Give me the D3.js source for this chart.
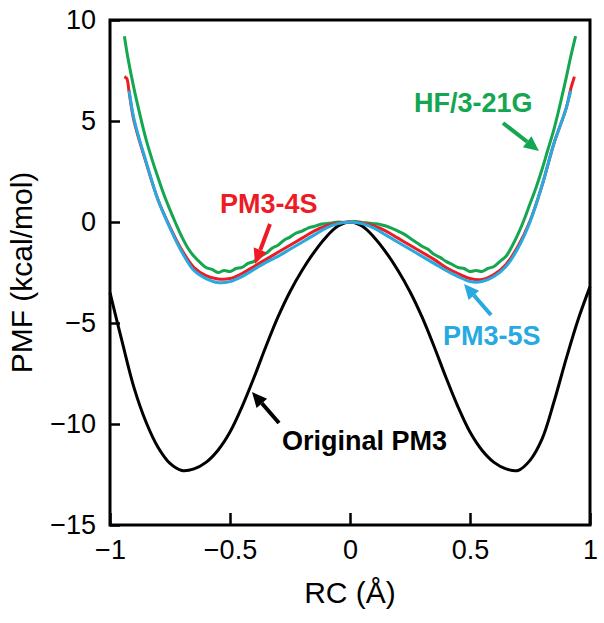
<!DOCTYPE html>
<html>
<head>
<meta charset="utf-8">
<script src="https://cdn.jsdelivr.net/npm/d3@7"></script>
<style>
  body { margin: 0; background: #fff; }
  svg { display: block; font-family: "Liberation Sans", Arial, sans-serif; }
</style>
</head>
<body>
<div id="chart"></div>
<script>
// reaction coordinate grids
const rcStep05 = [-1, -0.95, -0.9, -0.85, -0.8, -0.75, -0.7, -0.65, -0.6, -0.55, -0.5, -0.45, -0.4, -0.35, -0.3, -0.25, -0.2, -0.15, -0.1, -0.05,
  0, 0.05, 0.1, 0.15, 0.2, 0.25, 0.3, 0.35, 0.4, 0.45, 0.5, 0.55, 0.6, 0.65, 0.7, 0.75, 0.8, 0.85, 0.9, 0.95, 1];

// Original PM3
const pmfPM3 = [-3.5, -5.9, -8.2, -9.9, -11.15, -11.95, -12.3, -12.22, -11.9, -11.3, -10.4, -9.15, -7.7, -6.15, -4.7, -3.45, -2.4, -1.5, -0.75, -0.2,
  0, -0.2, -0.75, -1.5, -2.4, -3.45, -4.7, -6.15, -7.7, -9.15, -10.4, -11.3, -11.9, -12.22, -12.3, -11.8, -10.75, -8.9, -6.8, -4.85, -3.2];

// PM3-5S
const rc5S = [-0.92, -0.9, -0.85, -0.8, -0.75, -0.7, -0.65, -0.6, -0.55, -0.5, -0.45, -0.4, -0.35, -0.3, -0.25, -0.2, -0.15, -0.1, -0.05,
  0, 0.05, 0.1, 0.15, 0.2, 0.25, 0.3, 0.35, 0.4, 0.45, 0.5, 0.55, 0.6, 0.65, 0.7, 0.75, 0.8, 0.85, 0.9, 0.92];
const pmf5S = [6.5, 5.1, 3.0, 1.1, -0.3, -1.5, -2.4, -2.8, -3.0, -2.95, -2.7, -2.35, -2.0, -1.7, -1.35, -1.0, -0.65, -0.3, -0.08,
  0, -0.08, -0.3, -0.65, -1.0, -1.35, -1.7, -2.05, -2.4, -2.7, -2.95, -2.95, -2.7, -2.2, -1.3, 0.0, 1.8, 3.9, 5.6, 6.5];

// PM3-4S
const rc4S = [-0.94, -0.93, -0.92, -0.9, -0.85, -0.8, -0.75, -0.7, -0.65, -0.6, -0.55, -0.5, -0.45, -0.4, -0.35, -0.3, -0.25, -0.2, -0.15, -0.1, -0.05,
  0, 0.05, 0.1, 0.15, 0.2, 0.25, 0.3, 0.35, 0.4, 0.45, 0.5, 0.55, 0.6, 0.65, 0.7, 0.75, 0.8, 0.85, 0.9, 0.92, 0.93, 0.935];
const pmf4S = [7.2, 7.1, 6.4, 5.0, 2.95, 1.1, -0.25, -1.4, -2.25, -2.65, -2.82, -2.8, -2.55, -2.2, -1.85, -1.5, -1.15, -0.8, -0.45, -0.2, -0.05,
  0, -0.05, -0.2, -0.45, -0.8, -1.15, -1.5, -1.85, -2.25, -2.55, -2.8, -2.85, -2.6, -2.1, -1.2, 0.05, 1.8, 3.9, 5.6, 6.6, 7.0, 7.2];

// HF/3-21G
const rcHF = [-0.94, -0.925, -0.9, -0.875, -0.85, -0.825, -0.8, -0.775, -0.75, -0.725, -0.7, -0.675, -0.65, -0.625, -0.6, -0.575, -0.55, -0.525,
  -0.5, -0.475, -0.45, -0.425, -0.4, -0.375, -0.35, -0.325, -0.3, -0.275, -0.25, -0.225, -0.2, -0.175, -0.15, -0.125, -0.1, -0.075, -0.05, -0.025,
  0, 0.025, 0.05, 0.075, 0.1, 0.125, 0.15, 0.175, 0.2, 0.225, 0.25, 0.275, 0.3, 0.325, 0.35, 0.375, 0.4, 0.425, 0.45, 0.475,
  0.5, 0.525, 0.55, 0.575, 0.6, 0.625, 0.65, 0.675, 0.7, 0.725, 0.75, 0.775, 0.8, 0.825, 0.85, 0.875, 0.9, 0.92, 0.94];
const pmfHF = [9.2, 8.1, 6.6, 5.3, 4.1, 3.1, 2.2, 1.35, 0.6, -0.1, -0.75, -1.3, -1.7, -2.0, -2.25, -2.35, -2.5, -2.4,
  -2.45, -2.3, -2.25, -2.05, -1.95, -1.7, -1.55, -1.3, -1.15, -0.9, -0.75, -0.55, -0.45, -0.3, -0.22, -0.12, -0.08, -0.05, 0.0, -0.03,
  0.0, 0.02, -0.02, -0.05, -0.08, -0.12, -0.2, -0.32, -0.45, -0.6, -0.8, -1.0, -1.2, -1.35, -1.6, -1.75, -1.95, -2.1, -2.25, -2.3,
  -2.45, -2.4, -2.45, -2.3, -2.2, -1.95, -1.7, -1.2, -0.6, 0.1, 0.9, 1.7, 2.6, 3.6, 4.6, 5.8, 7.1, 8.2, 9.2];

const xTicks = [-1, -0.5, 0, 0.5, 1];
const yTicks = [-15, -10, -5, 0, 5, 10];

const width = 604, height = 623;
const margin = { top: 20, left: 110, bottom: 98, right: 14 };
const iwidth = width - margin.left - margin.right;
const iheight = height - margin.top - margin.bottom;

const green = "#14a650", red = "#ed1c24", blue = "#27aae1";

const svg = d3.select("#chart").append("svg")
  .attr("width", width)
  .attr("height", height);

const g = svg.append("g").attr("transform", `translate(${margin.left},${margin.top})`);

const x = d3.scaleLinear().domain([-1, 1]).range([0, iwidth]);
const y = d3.scaleLinear().domain([-15, 10]).range([iheight, 0]);

const fmt = d => (d < 0 ? "\u2212" : "") + Math.abs(d);

const xAxis = g.append("g")
  .attr("transform", `translate(0,${iheight})`)
  .call(d3.axisBottom(x).tickValues(xTicks).tickSizeInner(-12).tickSizeOuter(0).tickPadding(15).tickFormat(fmt));
const yAxis = g.append("g")
  .call(d3.axisLeft(y).tickValues(yTicks).tickSizeInner(-10).tickSizeOuter(0).tickPadding(14).tickFormat(fmt));

[xAxis, yAxis].forEach(a => {
  a.select(".domain").remove();
  a.selectAll(".tick line").attr("stroke", "#000").attr("stroke-width", 2.5);
  a.selectAll(".tick text").attr("fill", "#000").style("font-size", "27px");
});

const line = (xs, ys) => d3.line()
  .x((d, i) => x(xs[i]))
  .y(d => y(d))
  .curve(d3.curveCatmullRom.alpha(0.5))(ys);

g.append("path").attr("d", line(rcStep05, pmfPM3)).attr("fill", "none").attr("stroke", "#000").attr("stroke-width", 3);
g.append("path").attr("d", line(rcHF, pmfHF)).attr("fill", "none").attr("stroke", green).attr("stroke-width", 3);
g.append("path").attr("d", line(rc4S, pmf4S)).attr("fill", "none").attr("stroke", red).attr("stroke-width", 3);
g.append("path").attr("d", line(rc5S, pmf5S)).attr("fill", "none").attr("stroke", blue).attr("stroke-width", 3);

// frame
g.append("rect")
  .attr("width", iwidth).attr("height", iheight)
  .attr("fill", "none").attr("stroke", "#000").attr("stroke-width", 3);

// annotations
function arrow(x1, y1, x2, y2, color) {
  const ang = Math.atan2(y2 - y1, x2 - x1);
  const hl = 15, hw = 7;
  const bx = x2 - hl * Math.cos(ang), by = y2 - hl * Math.sin(ang);
  svg.append("line")
    .attr("x1", x1).attr("y1", y1).attr("x2", bx).attr("y2", by)
    .attr("stroke", color).attr("stroke-width", 4);
  svg.append("path")
    .attr("d", `M${x2},${y2}L${bx + hw * Math.sin(ang)},${by - hw * Math.cos(ang)}L${bx - hw * Math.sin(ang)},${by + hw * Math.cos(ang)}Z`)
    .attr("fill", color);
}

function label(txt, lx, ly, color) {
  svg.append("text").attr("x", lx).attr("y", ly)
    .attr("fill", color).style("font-size", "27px").style("font-weight", "bold")
    .text(txt);
}

label("HF/3-21G", 414, 112, green);
arrow(503, 123, 539, 151, green);
label("PM3-4S", 220, 213, red);
arrow(270, 224, 255, 264, red);
label("PM3-5S", 443, 345, blue);
arrow(491, 315, 464, 284, blue);
label("Original PM3", 282, 450, "#000");
arrow(279, 423, 252, 392, "#000");

// axis titles
svg.append("text")
  .attr("x", margin.left + iwidth / 2).attr("y", 603)
  .attr("text-anchor", "middle").style("font-size", "30px")
  .text("RC (Å)");
svg.append("text")
  .attr("transform", `translate(32,${margin.top + iheight / 2}) rotate(-90)`)
  .attr("text-anchor", "middle").style("font-size", "30px")
  .text("PMF (kcal/mol)");
</script>
</body>
</html>
